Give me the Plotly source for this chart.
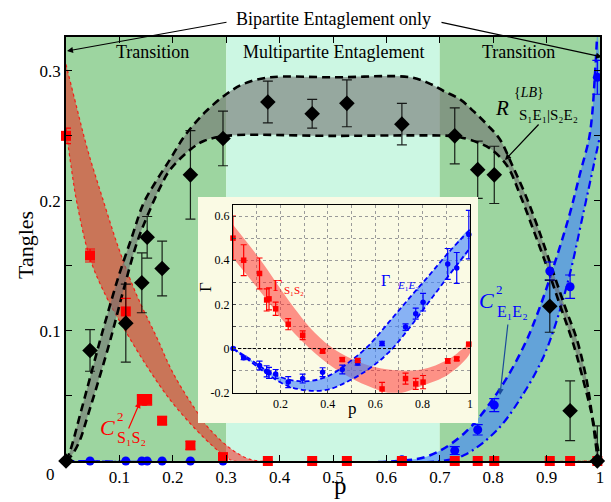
import plotly.graph_objects as go

# ---------------- data ----------------
P = [0, 0.045, 0.112, 0.142, 0.152, 0.18, 0.233, 0.294, 0.378, 0.461, 0.526,
     0.629, 0.728, 0.771, 0.802, 0.906, 0.944, 0.995]

R_LB = [0, 0.085, 0.106, 0.137, 0.172, 0.148, 0.22, 0.248, 0.276, 0.267, 0.275,
        0.259, 0.25, 0.224, 0.22, 0.119, 0.0386, 0]
R_ERR_UP = [0, 0.016, 0.03, 0.023, 0.016, 0.021, 0.034, 0.021, 0.016, 0.011, 0.018,
            0.016, 0.0215, 0.022, 0.022, 0.02, 0.023, 0.027]
R_ERR_DN = [0, 0.016, 0.03, 0.023, 0.016, 0.021, 0.034, 0.021, 0.016, 0.011, 0.018,
            0.016, 0.0215, 0.022, 0.022, 0.02, 0.023, 0]

C_S = [0.25, 0.158, 0.115, 0.047, 0.047, 0.031, 0.012, 0.003, 0, 0, 0,
       0, 0, 0, 0, 0, 0, 0]
C_S_ERR = [0.006, 0.005, 0.01, 0.004, 0.004, 0.003, 0.003, 0.002, 0, 0, 0,
           0, 0, 0, 0, 0, 0, 0]

C_E = [0, 0, 0, 0, 0, 0, 0, 0, 0, 0, 0,
       0.001, 0.008, 0.024, 0.043, 0.146, 0.134, 0.295]
C_E_ERR = [0, 0, 0, 0, 0, 0, 0, 0, 0, 0, 0,
           0.001, 0.003, 0.004, 0.005, 0.007, 0.009, 0.013]

# theory bands, main panel
RS_UP_P = [0, 0.02, 0.04, 0.07, 0.10, 0.133, 0.17, 0.20, 0.24, 0.27, 0.31, 0.34, 0.364, 1.0]
RS_UP_T = [0.305, 0.272, 0.24, 0.2, 0.162, 0.127, 0.095, 0.068, 0.041, 0.024, 0.009, 0.002, 0, 0]
RS_LO_P = [0, 0.01, 0.0206, 0.0455, 0.077, 0.114, 0.152, 0.195, 0.239, 0.276, 0.30, 0.315, 1.0]
RS_LO_T = [0.255, 0.225, 0.198, 0.155, 0.125, 0.098, 0.0725, 0.047, 0.026, 0.011, 0.003, 0, 0]

BE_UP_P = [0, 0.62, 0.682, 0.745, 0.807, 0.857, 0.888, 0.919, 0.944, 0.963, 0.979, 0.985, 0.991, 0.995]
BE_UP_T = [0, 0, 0.0044, 0.021, 0.052, 0.088, 0.119, 0.157, 0.191, 0.2216, 0.247, 0.265, 0.30, 0.33]
BE_LO_P = [0, 0.70, 0.745, 0.807, 0.857, 0.894, 0.919, 0.944, 0.969, 0.988, 1.0]
BE_LO_T = [0, 0, 0.0044, 0.0237, 0.052, 0.080, 0.108, 0.1445, 0.191, 0.227, 0.25]

G_UP_P = [0, 0.008, 0.027, 0.045, 0.062, 0.077, 0.0985, 0.124, 0.145, 0.170, 0.195, 0.214,
          0.226, 0.26, 0.30, 0.333, 0.383, 0.5, 0.645, 0.682, 0.707, 0.738, 0.763, 0.79,
          0.813, 0.835, 0.86, 0.885, 0.91, 0.935, 0.957, 0.975, 0.987, 0.996]
G_UP_T = [0, 0.008, 0.0365, 0.064, 0.09, 0.112, 0.142, 0.173, 0.198, 0.216, 0.232, 0.245,
          0.252, 0.268, 0.282, 0.29, 0.295, 0.295, 0.295, 0.29, 0.2845, 0.278, 0.269, 0.258,
          0.247, 0.228, 0.205, 0.178, 0.148, 0.118, 0.093, 0.062, 0.029, 0]
G_LO_P = [0, 0.01, 0.025, 0.042, 0.061, 0.083, 0.108, 0.133, 0.155, 0.177, 0.195, 0.233,
          0.258, 0.30, 0.5, 0.72, 0.738, 0.77, 0.795, 0.826, 0.85, 0.875, 0.9, 0.925,
          0.95, 0.97, 0.985, 0.995, 1.0]
G_LO_T = [0, 0.004, 0.015, 0.0365, 0.062, 0.093, 0.132, 0.168, 0.191, 0.211, 0.224, 0.2395,
          0.246, 0.25, 0.25, 0.25, 0.249, 0.245, 0.24, 0.227, 0.205, 0.178, 0.15, 0.12,
          0.09, 0.06, 0.035, 0.012, 0]

# inset data
G_S = [0.50, 0.40, 0.34, 0.22, 0.225, 0.18, 0.11, 0.06, -0.012, -0.05, -0.054,
       -0.183, -0.136, -0.16, -0.152, -0.056, -0.047, 0.02]
G_S_ERR = [0.10, 0.07, 0.07, 0.05, 0.05, 0.03, 0.025, 0.02, 0.008, 0.008, 0.008,
           0.03, 0.025, 0.025, 0.03, 0.01, 0.008, 0.005]
G_E = [0, -0.042, -0.077, -0.103, -0.11, -0.115, -0.152, -0.136, -0.107, -0.095, -0.065,
       0.023, 0.097, 0.158, 0.21, 0.383, 0.365, 0.516]
G_E_ERR = [0.005, 0.008, 0.02, 0.025, 0.025, 0.02, 0.025, 0.02, 0.02, 0.02, 0.01,
           0.01, 0.015, 0.025, 0.04, 0.07, 0.07, 0.11]

IS_UP_P = [0, 0.12, 0.232, 0.345, 0.43, 0.542, 0.655, 0.796, 0.908, 1.0]
IS_UP_G = [0.56, 0.395, 0.222, 0.071, -0.005, -0.065, -0.095, -0.095, -0.05, 0.018]
IS_LO_P = [0, 0.12, 0.232, 0.345, 0.458, 0.57, 0.683, 0.796, 0.908, 1.0]
IS_LO_G = [0.41, 0.252, 0.101, -0.02, -0.11, -0.17, -0.205, -0.17, -0.118, -0.02]

IE_A_P = [0, 0.063, 0.148, 0.232, 0.317, 0.401, 0.486, 0.57, 0.655, 0.739, 0.824, 0.908, 1.0]
IE_A_G = [0, -0.042, -0.103, -0.14, -0.148, -0.125, -0.065, 0.011, 0.116, 0.222, 0.327, 0.433, 0.539]
IE_B_P = [0, 0.063, 0.148, 0.232, 0.317, 0.401, 0.486, 0.57, 0.655, 0.739, 0.824, 0.908, 1.0]
IE_B_G = [0, -0.05, -0.118, -0.17, -0.19, -0.186, -0.148, -0.095, -0.02, 0.086, 0.207, 0.327, 0.455]

X_TICKS = [0.1, 0.2, 0.3, 0.4, 0.5, 0.6, 0.7, 0.8, 0.9, 1.0]
X_TICKTEXT = ["0.1", "0.2", "0.3", "0.4", "0.5", "0.6", "0.7", "0.8", "0.9", "1"]
Y_TICKS = [0, 0.05, 0.1, 0.15, 0.2, 0.25, 0.3]
Y_TICKTEXT = ["", "", "0.1", "", "0.2", "", "0.3"]
IX_TICKS = [0, 0.1, 0.2, 0.3, 0.4, 0.5, 0.6, 0.7, 0.8, 0.9, 1.0]
IX_TICKTEXT = ["", "", "0.2", "", "0.4", "", "0.6", "", "0.8", "", "1"]
IY_TICKS = [-0.2, -0.1, 0, 0.1, 0.2, 0.3, 0.4, 0.5, 0.6]
IY_TICKTEXT = ["-0.2", "", "0", "", "0.2", "", "0.4", "", "0.6"]

# ---------------- layout geometry ----------------
W, H = 611, 502
ML, MR, MT, MB = 66, 11, 37, 41
PW = W - ML - MR
PH = H - MT - MB
YMAX = 0.326
FONT = "Liberation Serif"

GREEN = "#9dd5a0"
MINT = "#ccf7e3"
YELLOW = "#fafae4"
RED_FILL = "rgba(255,0,0,0.45)"
BLUE_FILL = "rgba(60,130,255,0.6)"
GRAY_FILL = "rgba(110,110,110,0.58)"


def px(x):
    return (x - ML) / PW


def py(y):
    return (H - MB - y) / PH


def dy(y):
    return YMAX * (H - MB - y) / PH


fig = go.Figure()

# red band (C^2_S1S2)
fig.add_trace(go.Scatter(x=RS_UP_P + RS_LO_P[::-1], y=RS_UP_T + RS_LO_T[::-1],
                         fill="toself", fillcolor=RED_FILL, line=dict(width=0),
                         mode="lines", line_shape="spline", showlegend=False))
for xs, ys in ((RS_UP_P, RS_UP_T), (RS_LO_P, RS_LO_T)):
    fig.add_trace(go.Scatter(x=xs, y=ys, mode="lines", line_shape="spline",
                             line=dict(color="rgba(255,0,0,0.8)", width=1.2, dash="dot"),
                             showlegend=False))

# blue band (C^2_E1E2)
fig.add_trace(go.Scatter(x=BE_UP_P + BE_LO_P[::-1], y=BE_UP_T + BE_LO_T[::-1],
                         fill="toself", fillcolor=BLUE_FILL, line=dict(width=0),
                         mode="lines", line_shape="spline", showlegend=False))
fig.add_trace(go.Scatter(x=BE_UP_P, y=BE_UP_T, mode="lines", line_shape="spline",
                         line=dict(color="#0000ff", width=2.5, dash="8px,5px"), showlegend=False))
fig.add_trace(go.Scatter(x=BE_LO_P, y=BE_LO_T, mode="lines", line_shape="spline",
                         line=dict(color="#0000ff", width=2.2, dash="8px,4px,2px,4px"), showlegend=False))

# gray band (R^{LB})
fig.add_trace(go.Scatter(x=G_UP_P + G_LO_P[::-1], y=G_UP_T + G_LO_T[::-1],
                         fill="toself", fillcolor=GRAY_FILL, line=dict(width=0),
                         mode="lines", line_shape="spline", showlegend=False))
for xs, ys in ((G_UP_P, G_UP_T), (G_LO_P, G_LO_T)):
    fig.add_trace(go.Scatter(x=xs, y=ys, mode="lines", line_shape="spline",
                             line=dict(color="black", width=2.6, dash="8px,5px"),
                             showlegend=False))

# experimental points
fig.add_trace(go.Scatter(x=P, y=C_E, mode="markers", cliponaxis=False,
                         marker=dict(symbol="circle", size=9, color="#0000ff"),
                         error_y=dict(type="data", array=C_E_ERR, color="#0000ff",
                                      thickness=1.2, width=5),
                         showlegend=False))
fig.add_trace(go.Scatter(x=P, y=C_S, mode="markers", cliponaxis=False,
                         marker=dict(symbol="square", size=10, color="#ff0000"),
                         error_y=dict(type="data", array=C_S_ERR, color="#ff0000",
                                      thickness=1.2, width=5),
                         showlegend=False))
fig.add_trace(go.Scatter(x=P, y=R_LB, mode="markers", cliponaxis=False,
                         marker=dict(symbol="diamond", size=12, color="black"),
                         error_y=dict(type="data", array=R_ERR_UP, arrayminus=R_ERR_DN,
                                      color="rgba(0,0,0,0.85)", thickness=1.2, width=5),
                         showlegend=False))

# inset background box (covers the main panel under the inset)
bx0, bx1 = px(198), px(478)
by0, by1 = dy(423), dy(197)
fig.add_trace(go.Scatter(x=[bx0, bx1, bx1, bx0, bx0], y=[by0, by0, by1, by1, by0],
                         fill="toself", fillcolor=YELLOW, mode="lines",
                         line=dict(width=0, color=YELLOW), showlegend=False, hoverinfo="skip"))

# ---------------- inset ----------------
fig.add_trace(go.Scatter(x=IS_UP_P + IS_LO_P[::-1], y=IS_UP_G + IS_LO_G[::-1],
                         fill="toself", fillcolor="rgba(255,40,40,0.5)", line=dict(width=0),
                         mode="lines", line_shape="spline", xaxis="x2", yaxis="y2",
                         showlegend=False))
fig.add_trace(go.Scatter(x=IE_A_P + IE_B_P[::-1], y=IE_A_G + IE_B_G[::-1],
                         fill="toself", fillcolor="rgba(60,130,255,0.6)", line=dict(width=0),
                         mode="lines", line_shape="spline", xaxis="x2", yaxis="y2",
                         showlegend=False))
for xs, ys in ((IE_A_P, IE_A_G), (IE_B_P, IE_B_G)):
    fig.add_trace(go.Scatter(x=xs, y=ys, mode="lines", line_shape="spline",
                             line=dict(color="#0000ff", width=1.8, dash="5px,3px"),
                             xaxis="x2", yaxis="y2", showlegend=False))
fig.add_trace(go.Scatter(x=[0, 1], y=[0, 0], mode="lines",
                         line=dict(color="black", width=1, dash="3px,2px"),
                         xaxis="x2", yaxis="y2", showlegend=False))
fig.add_trace(go.Scatter(x=P, y=G_E, mode="markers", cliponaxis=False,
                         marker=dict(symbol="circle", size=5.5, color="#0000ff"),
                         error_y=dict(type="data", array=G_E_ERR, color="#0000ff",
                                      thickness=1.2, width=3),
                         xaxis="x2", yaxis="y2", showlegend=False))
fig.add_trace(go.Scatter(x=P, y=G_S, mode="markers", cliponaxis=False,
                         marker=dict(symbol="square", size=5.5, color="#ff0000"),
                         error_y=dict(type="data", array=G_S_ERR, color="#ff0000",
                                      thickness=1.2, width=3),
                         xaxis="x2", yaxis="y2", showlegend=False))

# ---------------- shapes ----------------
shapes = [
    dict(type="rect", xref="x", yref="paper", x0=0, x1=0.3, y0=0, y1=1,
         fillcolor=GREEN, line=dict(width=0), layer="below"),
    dict(type="rect", xref="x", yref="paper", x0=0.3, x1=0.7, y0=0, y1=1,
         fillcolor=MINT, line=dict(width=0), layer="below"),
    dict(type="rect", xref="x", yref="paper", x0=0.7, x1=1.0, y0=0, y1=1,
         fillcolor=GREEN, line=dict(width=0), layer="below"),
]


# ---------------- annotations ----------------
def txt(x, y, s, size, color="black", angle=0, xanchor="center", yanchor="middle"):
    return dict(x=px(x), y=py(y), xref="paper", yref="paper", text=s, showarrow=False,
                font=dict(family=FONT, size=size, color=color), textangle=angle,
                xanchor=xanchor, yanchor=yanchor)


def arrow(hx, hy, tx, ty, color="black", width=1.2):
    return dict(x=px(hx), y=py(hy), xref="paper", yref="paper", text="",
                showarrow=True, ax=tx - hx, ay=ty - hy, axref="pixel", ayref="pixel",
                arrowhead=2, arrowsize=1, arrowwidth=width, arrowcolor=color)


annotations = [
    txt(333, 19, "Bipartite Entaglement only", 18),
    arrow(67, 51, 228, 22),
    arrow(602, 57, 440, 22),
    txt(152, 52, "Transition", 18),
    txt(333, 52, "Multipartite Entaglement", 18),
    txt(518, 52, "Transition", 18),
    txt(25, 245, "Tangles", 22, angle=-90),
    txt(340, 501, "p", 25, yanchor="bottom"),
    txt(50, 474, "0", 17),
    # R label
    txt(502, 108, "<i>R</i>", 21),
    txt(529, 93, "{<i>LB</i>}", 14),
    txt(548, 115, "S₁E₁|S₂E₂", 15),
    arrow(505, 160, 540, 123),
    # C^2_S1S2
    txt(107, 427, "<i>C</i>", 22, color="#ff0000"),
    txt(120, 416, "2", 13, color="#ff0000"),
    txt(131, 437, "S₁S₂", 16, color="#ff0000"),
    arrow(140, 402, 128, 430, color="#ff0000"),
    # C^2_E1E2
    txt(486, 300, "<i>C</i>", 22, color="#0000ff"),
    txt(499, 289, "2", 13, color="#0000ff"),
    txt(512, 311, "E₁E₂", 16, color="#0000ff"),
    arrow(500, 395, 508, 323, color="#1a4a9a"),
    # inset labels
    txt(277, 285, "Γ", 16, color="#ff0000"),
    txt(294, 290, "S₁S₂", 11, color="#ff0000"),
    txt(385, 280, "Γ", 16, color="#0000ff"),
    txt(408, 285, "<i>E</i>₁<i>E</i>₂", 11, color="#0000ff"),
    txt(352, 408, "p", 17),
    txt(205, 287, "Γ", 17, angle=-90),
]

axis_common = dict(showline=True, linecolor="black", linewidth=1.5, mirror="ticks",
                   ticks="inside", tickcolor="black", showgrid=False, zeroline=False,
                   automargin=False)

fig.update_layout(
    width=W, height=H,
    margin=dict(l=ML, r=MR, t=MT, b=MB),
    paper_bgcolor="white",
    plot_bgcolor=YELLOW,
    showlegend=False,
    font=dict(family=FONT, color="black"),
    shapes=shapes,
    annotations=annotations,
    xaxis=dict(range=[0, 1], tickvals=X_TICKS, ticktext=X_TICKTEXT, ticklen=6,
               tickfont=dict(family=FONT, size=17), **axis_common),
    yaxis=dict(range=[0, YMAX], tickvals=Y_TICKS, ticktext=Y_TICKTEXT, ticklen=6,
               tickfont=dict(family=FONT, size=17), **axis_common),
    xaxis2=dict(domain=[px(233), px(470)], anchor="y2", range=[0, 1],
                tickvals=IX_TICKS, ticktext=IX_TICKTEXT, ticklen=3,
                tickfont=dict(family=FONT, size=12), automargin=False,
                showline=True, linecolor="black", linewidth=1.3, mirror=True,
                ticks="inside", showgrid=True, gridcolor="#9a9a9a", griddash="dot",
                gridwidth=1, zeroline=False),
    yaxis2=dict(domain=[py(392.7), py(205)], anchor="x2", range=[-0.2, 0.65],
                tickvals=IY_TICKS, ticktext=IY_TICKTEXT, ticklen=3,
                tickfont=dict(family=FONT, size=12), automargin=False,
                showline=True, linecolor="black", linewidth=1.3, mirror=True,
                ticks="inside", showgrid=True, gridcolor="#9a9a9a", griddash="dot",
                gridwidth=1, zeroline=False),
)

fig.write_html("out.html",
               config={"displayModeBar": False},
               post_script="document.body.style.margin='0px';"
                           "document.body.style.overflow='hidden';"
                           "document.documentElement.style.overflow='hidden';")
